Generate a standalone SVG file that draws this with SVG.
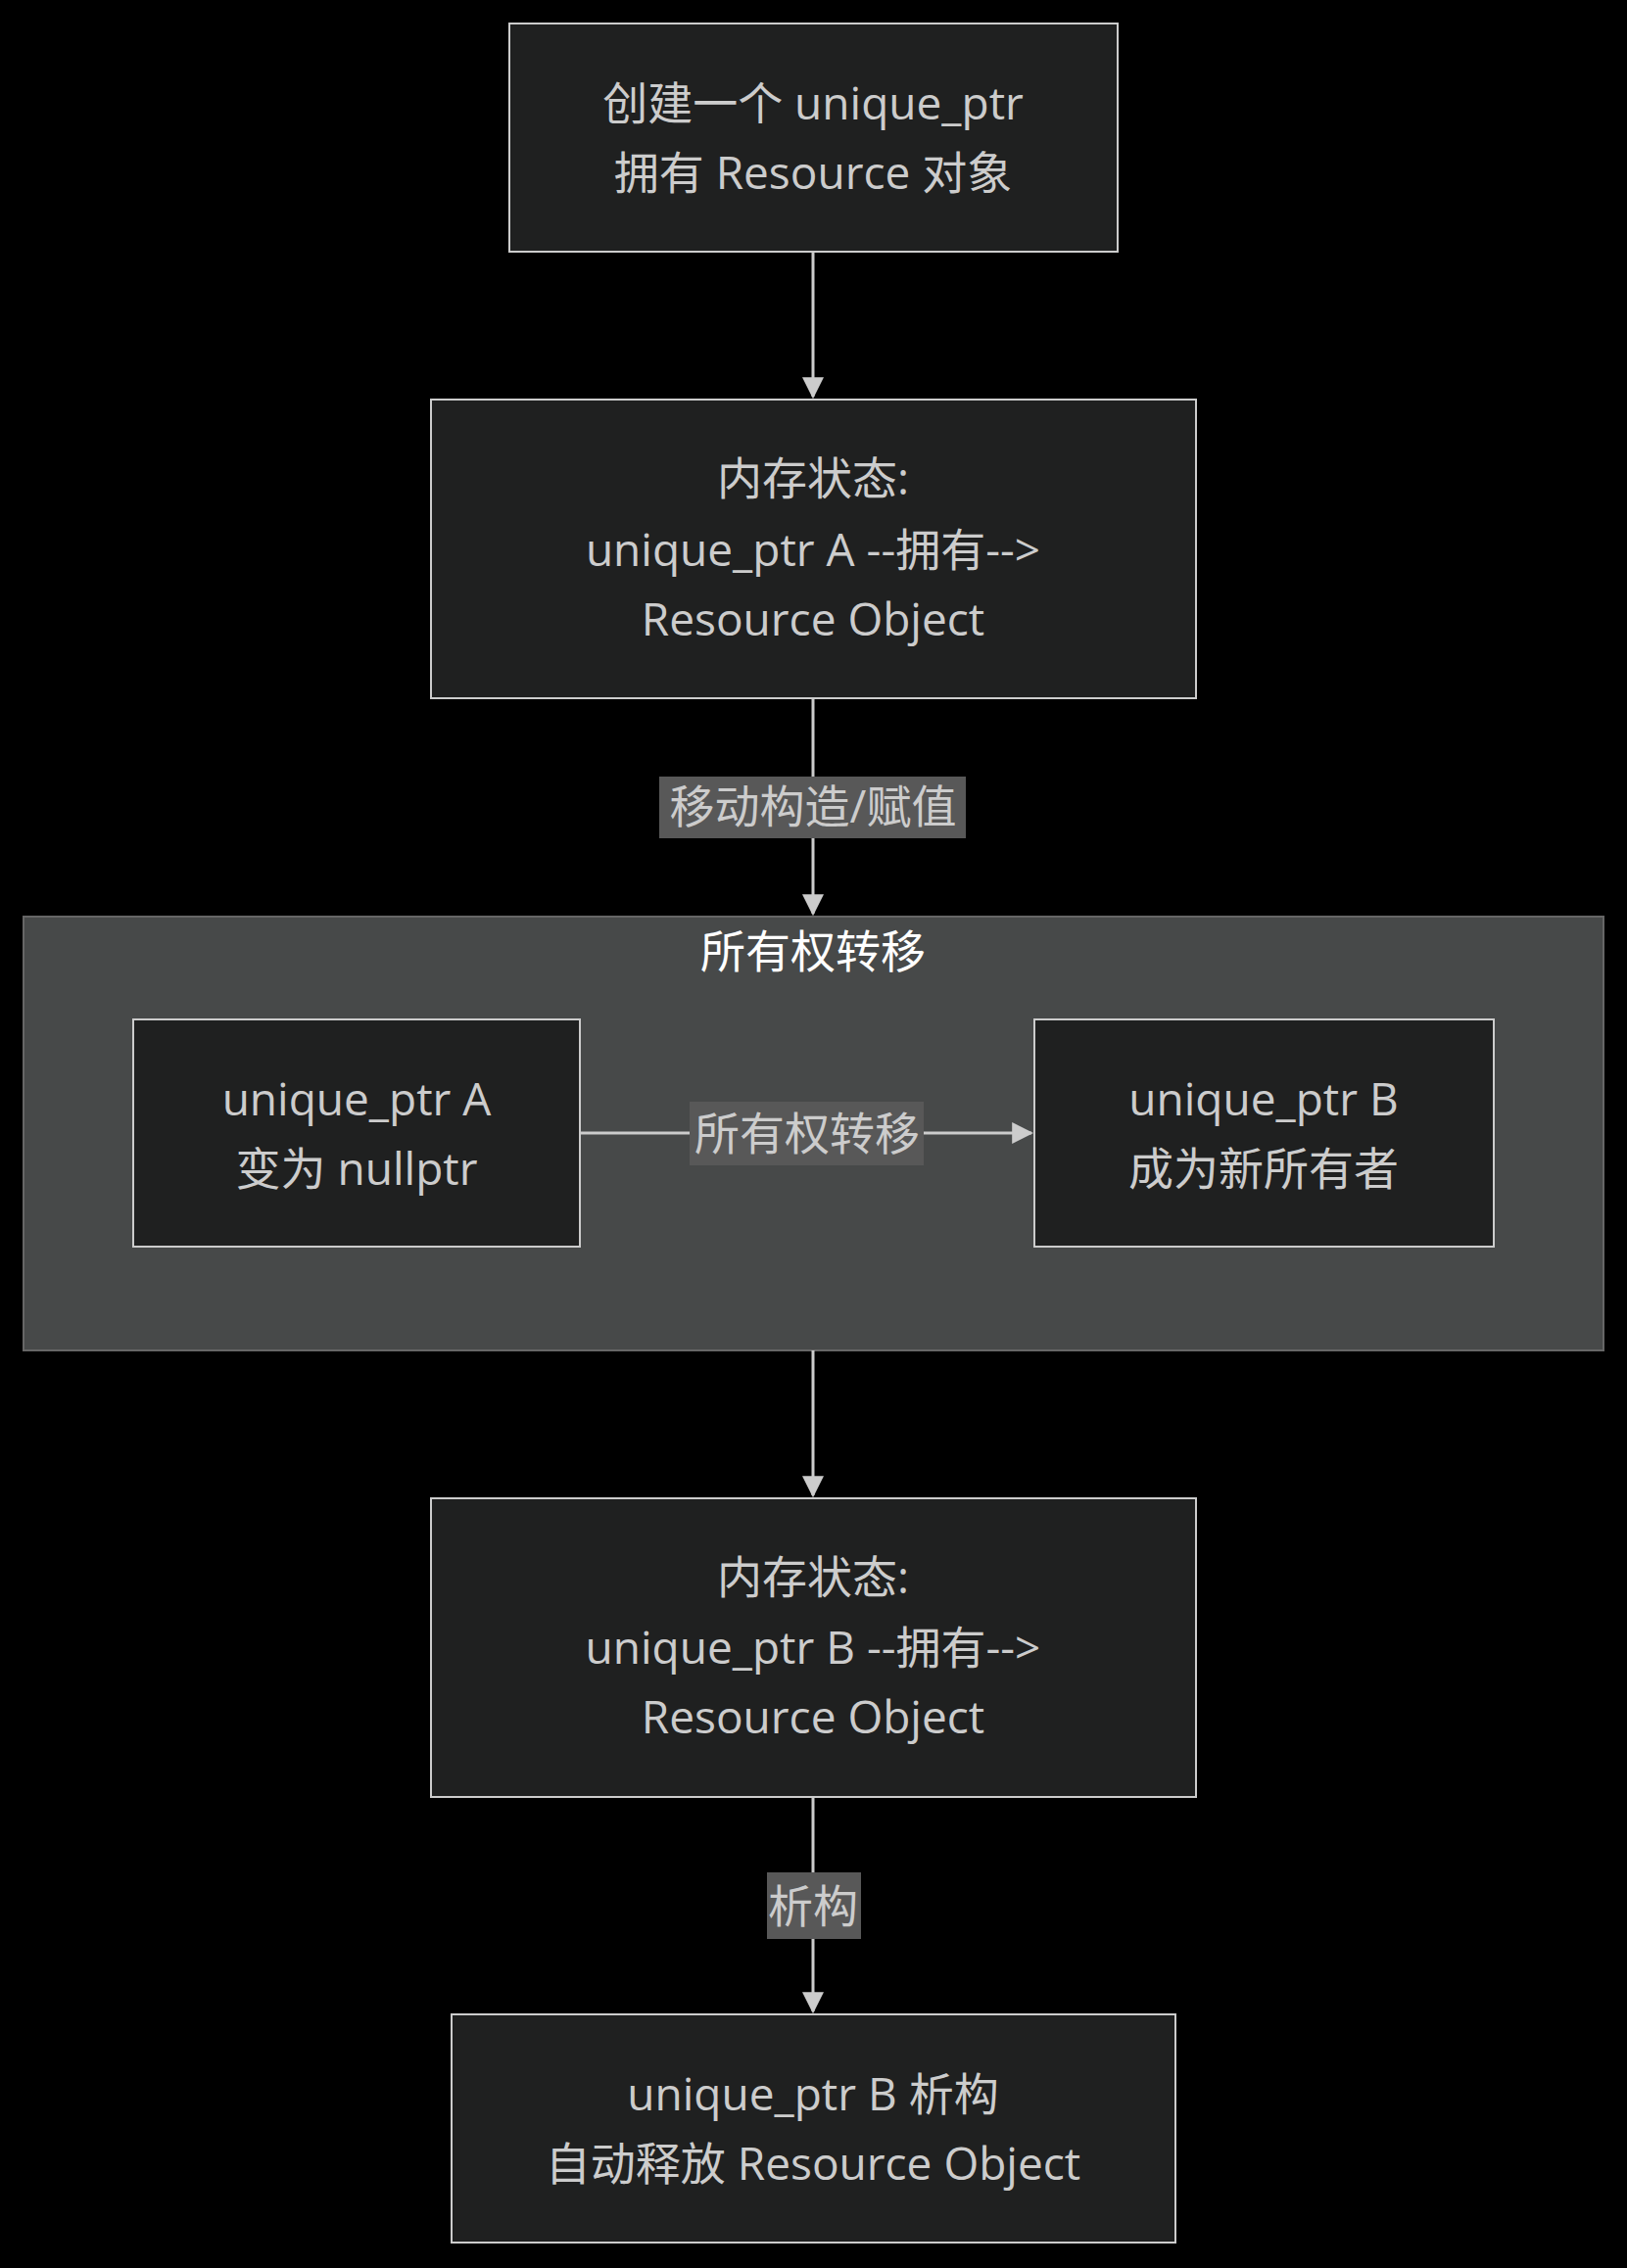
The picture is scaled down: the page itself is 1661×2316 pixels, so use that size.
<svg xmlns="http://www.w3.org/2000/svg" width="1661" height="2316" viewBox="0 0 1661 2316">
<style>
.n{fill:#1f2020;stroke:#cccccc;stroke-width:2}
.t{fill:#cccccc;font-family:"Open Sans","Noto Sans CJK SC",sans-serif;font-size:46px;text-anchor:middle;dominant-baseline:central}
.e{stroke:#cccccc;stroke-width:3;fill:none}
.lb{fill:#585858}
</style>
<defs><marker id="ah" viewBox="0 0 10 10" refX="9" refY="5" markerWidth="22" markerHeight="22" markerUnits="userSpaceOnUse" orient="auto"><path d="M0,0L10,5L0,10z" fill="#cccccc"/></marker></defs>
<rect width="1661" height="2316" fill="#000"/>
<g id="cluster"><rect x="24" y="936" width="1613" height="443" fill="#474949" stroke="#666" stroke-width="2"/><text class="t" x="830" y="970" style="fill:#ffffff">所有权转移</text></g>
<g id="edges">
<path class="e" d="M830,257V405" marker-end="url(#ah)"/>
<path class="e" d="M830,713V933" marker-end="url(#ah)"/>
<path class="e" d="M592,1157H1053" marker-end="url(#ah)"/>
<path class="e" d="M830,1379V1527" marker-end="url(#ah)"/>
<path class="e" d="M830,1835V2054" marker-end="url(#ah)"/>
<rect class="lb" x="673" y="793" width="313" height="63"/><text class="t" x="830" y="822">移动构造/赋值</text>
<rect class="lb" x="704" y="1125" width="239" height="65"/><text class="t" x="824" y="1156">所有权转移</text>
<rect class="lb" x="783" y="1912" width="96" height="68"/><text class="t" x="830" y="1945">析构</text>
</g>
<g id="n1"><rect class="n" x="520" y="24" width="621" height="233"/><text class="t" x="830" y="104">创建一个 unique_ptr</text><text class="t" x="830" y="175">拥有 Resource 对象</text></g>
<g id="n2"><rect class="n" x="440" y="408" width="781" height="305"/><text class="t" x="830" y="487">内存状态:</text><text class="t" x="830" y="560">unique_ptr A --拥有--&gt;</text><text class="t" x="830" y="631">Resource Object</text></g>
<g id="nA"><rect class="n" x="136" y="1041" width="456" height="232"/><text class="t" x="364" y="1121">unique_ptr A</text><text class="t" x="364" y="1192">变为 nullptr</text></g>
<g id="nB"><rect class="n" x="1056" y="1041" width="469" height="232"/><text class="t" x="1290" y="1121">unique_ptr B</text><text class="t" x="1290" y="1192">成为新所有者</text></g>
<g id="n4"><rect class="n" x="440" y="1530" width="781" height="305"/><text class="t" x="830" y="1609">内存状态:</text><text class="t" x="830" y="1681">unique_ptr B --拥有--&gt;</text><text class="t" x="830" y="1752">Resource Object</text></g>
<g id="n5"><rect class="n" x="461" y="2057" width="739" height="233"/><text class="t" x="830" y="2137">unique_ptr B 析构</text><text class="t" x="830" y="2208">自动释放 Resource Object</text></g>
</svg>
